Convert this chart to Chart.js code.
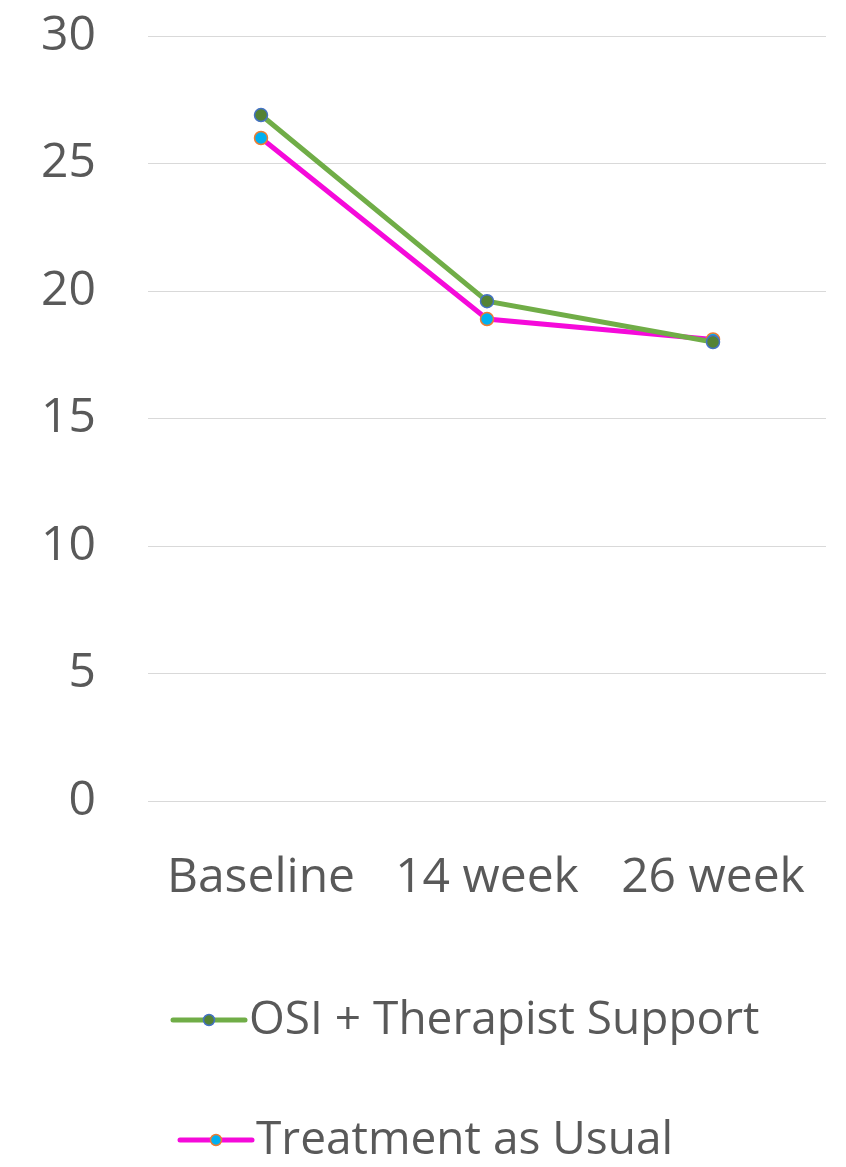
<!DOCTYPE html>
<html>
<head>
<meta charset="utf-8">
<script src="https://cdn.jsdelivr.net/npm/chart.js@4.4.1/dist/chart.umd.min.js"></script>
<style>
  html, body { margin: 0; padding: 0; background: #ffffff; }
  #wrap { width: 846px; height: 1167px; position: relative; }
</style>
</head>
<body>
<div id="wrap"><canvas id="chart" width="846" height="1167"></canvas></div>
<script>
// Time points and mean scores for each group
const categories = ['Baseline', '14 week', '26 week'];
const osiTherapist = [26.9, 19.6, 18.0];
const treatmentAsUsual = [26.0, 18.9, 18.1];
const yTicks = [0, 5, 10, 15, 20, 25, 30];

const FONT = '"Open Sans", "Noto Sans", sans-serif';
const TEXT = '#595959';
const CLEAR = 'rgba(0,0,0,0)';

// Legend drawn below the axis: line with a centered marker, then the label
const stackedLegend = {
  id: 'stackedLegend',
  afterDraw(chart) {
    const ctx = chart.ctx;
    const rows = [
      { x: 173, y: 1020 },
      { x: 180, y: 1140 }
    ];
    chart.data.datasets.forEach((ds, i) => {
      const r = rows[i];
      ctx.save();
      ctx.strokeStyle = ds.borderColor;
      ctx.lineWidth = ds.borderWidth;
      ctx.lineCap = 'round';
      ctx.beginPath();
      ctx.moveTo(r.x, r.y);
      ctx.lineTo(r.x + 72, r.y);
      ctx.stroke();
      ctx.beginPath();
      ctx.arc(r.x + 36, r.y, 5.5, 0, Math.PI * 2);
      ctx.fillStyle = ds.pointBackgroundColor;
      ctx.fill();
      ctx.lineWidth = ds.pointBorderWidth;
      ctx.strokeStyle = ds.pointBorderColor;
      ctx.stroke();
      ctx.fillStyle = TEXT;
      ctx.font = '46px ' + FONT;
      ctx.textBaseline = 'middle';
      ctx.textAlign = 'left';
      ctx.fillText(ds.label, r.x + 76, r.y + 1);
      ctx.restore();
    });
  }
};

new Chart(document.getElementById('chart'), {
  type: 'line',
  data: {
    labels: categories,
    datasets: [
      {
        label: 'OSI + Therapist Support',
        data: osiTherapist,
        borderColor: '#70AD47',
        borderWidth: 5,
        pointRadius: 6.5,
        pointBackgroundColor: '#548235',
        pointBorderColor: '#4472C4',
        pointBorderWidth: 1.5,
        tension: 0
      },
      {
        label: 'Treatment as Usual',
        data: treatmentAsUsual,
        borderColor: '#F50ADA',
        borderWidth: 5,
        pointRadius: 6.5,
        pointBackgroundColor: '#00B0F0',
        pointBorderColor: '#ED7D31',
        pointBorderWidth: 1.5,
        tension: 0
      }
    ]
  },
  options: {
    responsive: false,
    animation: false,
    layout: { padding: { top: 36, right: 20, left: 0, bottom: 0 } },
    plugins: {
      legend: { display: false },
      tooltip: { enabled: false }
    },
    scales: {
      x: {
        offset: true,
        grid: { color: CLEAR, tickColor: CLEAR, drawTicks: true, tickLength: 49 },
        border: { display: false },
        ticks: { color: TEXT, font: { family: FONT, size: 48 }, padding: 0, maxRotation: 0 },
        afterFit(scale) { scale.height = 366; }
      },
      y: {
        min: 0,
        max: 30,
        afterBuildTicks(scale) { scale.ticks = yTicks.map(v => ({ value: v })); },
        grid: { color: '#D9D9D9', lineWidth: 1, drawTicks: true, tickLength: 52, tickColor: CLEAR },
        border: { display: false },
        ticks: { color: TEXT, font: { family: FONT, size: 48 }, padding: 0 },
        afterFit(scale) { scale.width = 148; }
      }
    }
  },
  plugins: [stackedLegend]
});
</script>
</body>
</html>
